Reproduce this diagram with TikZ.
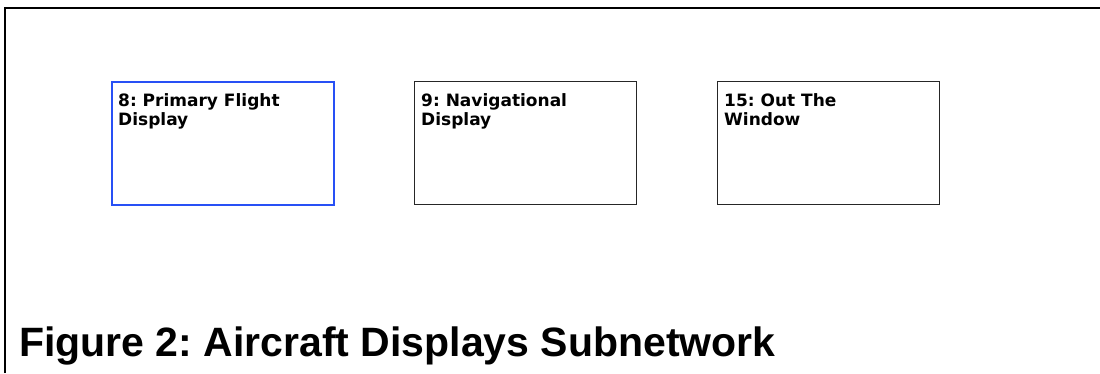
\documentclass[tikz,border=0pt]{standalone}
\usepackage{fontspec}
\setmainfont{Liberation Sans}
\newfontfamily\unitfont{DejaVu Sans}
\definecolor{selblue}{RGB}{40,80,245}
\frenchspacing
\begin{document}
\begin{tikzpicture}[x=1pt,y=-1pt,
  frameline/.style={line width=2pt,black},
  unit/.style={draw=black!85,line width=1.3pt,minimum width=222pt,minimum height=123pt,
    inner sep=0pt,anchor=north west},
  selunit/.style={unit,draw=selblue,line width=1.5pt},
  unitlabel/.style={font=\unitfont\bfseries\fontsize{17}{19}\selectfont,align=left,
    anchor=north west,inner sep=0pt},
  caption/.style={font=\bfseries\fontsize{41}{41}\selectfont,anchor=base west,inner sep=0pt}]
\useasboundingbox (0,0) rectangle (1100,373);
% open frame along the top and left edges
\draw[frameline] (5,373) -- (5,8) -- (1100,8);
% subnetwork units
\node[selunit] (pfd) at (111,81) {};
\node[unit] (nd) at (414,81) {};
\node[unit] (otw) at (717,81) {};
\node[unitlabel] (pfdlbl) at ([shift={(7,12)}]pfd.north west) {8: Primary Flight\\Display};
\node[unitlabel] (ndlbl) at ([shift={(7,12)}]nd.north west) {9: Navigational\\Display};
\node[unitlabel] (otwlbl) at ([shift={(7,12)}]otw.north west) {15: Out The\\Window};
% caption
\node[caption] (title) at (19,356) {Figure 2: Aircraft Displays Subnetwork};
\end{tikzpicture}
\end{document}
